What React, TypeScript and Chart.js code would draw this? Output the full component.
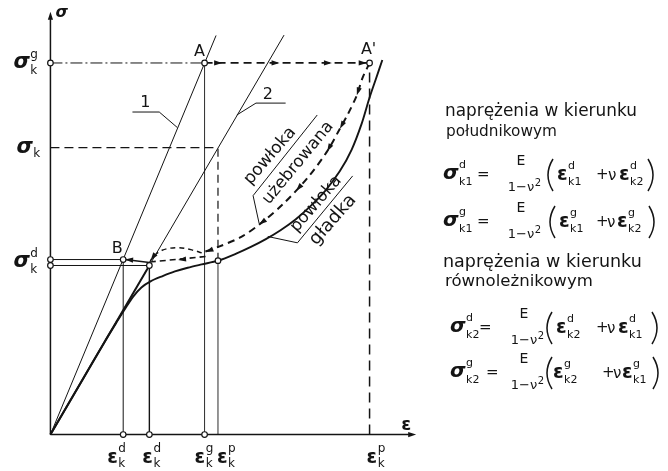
import { useEffect, useRef } from "react";
import { Chart, registerables } from "chart.js";

Chart.register(...registerables);

type P = [number, number];

// Visible window of the ε–σ plane (diagram units)
const X_MIN = -14.55;
const X_MAX = 192.26;
const Y_MIN = -8.73;
const Y_MAX = 115.87;

// Axis lengths
const AXIS_EPS_END = 114.6;
const AXIS_SIG_END = 113.8;

// Characteristic strains
const EPS_KD_B = 22.8; // ε_k^d at point B (line 1)
const EPS_KD_2 = 31.0; // ε_k^d on line 2
const EPS_KG = 48.3; // ε_k^g at point A
const EPS_KP = 52.5; // ε_k^p
const EPS_KP_A = 100; // ε_k^p at point A'

// Characteristic stresses
const SIG_KG = 100; // σ_k^g
const SIG_K = 77.2; // σ_k
const SIG_KD_1 = 47.1; // σ_k^d (upper)
const SIG_KD_2 = 45.5; // σ_k^d (lower)

// Linear-elastic lines 1 and 2
const LINE_1: P[] = [[0, 0], [51.9, 107.4]];
const LINE_2: P[] = [[0, 0], [73.2, 107.5]];

// Smooth shell ("powłoka gładka")
const SMOOTH_SHELL: P[] = [
  [0, 0], [10, 14.7], [17, 25], [21, 30.6], [23.5, 34.0], [26, 37.2], [28.5, 39.6],
  [31.5, 41.3], [35, 42.6], [39, 43.9], [43, 44.9], [47.4, 45.8], [52.5, 46.8],
  [58.2, 48.7], [62.8, 50.5], [67.5, 52.6], [72.1, 55.0], [76.8, 57.9], [81.4, 61.4],
  [86.1, 65.6], [90.7, 70.9], [94.4, 76.7], [97.5, 83.6], [100, 90.7], [101.9, 95.5],
  [104, 100.8],
];

// Ribbed shell ("powłoka użebrowana"), unloading path from A'
const RIBBED_SHELL: P[] = [
  [100, 100], [97.8, 96.0], [96.0, 91.3], [93.2, 86.2], [90.7, 82.3], [86.7, 76.2],
  [80.5, 69.0], [73.1, 62.2], [66.0, 56.9], [59.8, 53.2], [52.6, 50.5], [47.4, 48.9],
];
const RIBBED_LOOP: P[] = [
  [47.4, 48.9], [44.3, 49.7], [39.6, 50.3], [35.0, 49.6], [32.2, 47.8], [31.0, 46.2],
];
const RIBBED_RETURN: P[] = [[48.6, 47.9], [31.8, 46.5]];
const RETURN_TO_B: P[] = [[31.0, 46.3], [EPS_KD_B + 0.6, SIG_KD_1]];

// Leader lines of the curve labels
const LEADER_1: P[] = [[25.7, 86.8], [34.1, 86.8], [39.8, 82.6]];
const LEADER_2: P[] = [[73.7, 89.2], [64.4, 89.2], [58.4, 86.0]];
const LEADER_RIBBED: P[] = [[83.6, 86.0], [63.5, 64.3], [65.4, 56.8]];
const LEADER_SMOOTH: P[] = [[94.7, 69.6], [77.4, 51.6], [68.1, 53.3]];

// Marked points (open circles)
const MARKERS: P[] = [
  [0, SIG_KG], [EPS_KG, SIG_KG], [EPS_KP_A, SIG_KG],
  [0, SIG_KD_1], [0, SIG_KD_2], [EPS_KD_B, SIG_KD_1], [EPS_KD_2, SIG_KD_2],
  [EPS_KP, 46.8],
  [EPS_KD_B, 0], [EPS_KD_2, 0], [EPS_KG, 0],
];

// Arrow heads: [tip, tail]
const ARROWS: [P, P][] = [
  [[AXIS_EPS_END, 0], [AXIS_EPS_END - 3, 0]],
  [[0, AXIS_SIG_END], [0, AXIS_SIG_END - 3]],
  [[53.8, SIG_KG], [50.8, SIG_KG]],
  [[71.8, SIG_KG], [68.8, SIG_KG]],
  [[88.2, SIG_KG], [85.2, SIG_KG]],
  [[99.1, SIG_KG], [96.1, SIG_KG]],
  [[96.0, 91.3], [97.8, 96.0]],
  [[90.7, 82.3], [93.2, 86.2]],
  [[86.7, 76.2], [88.7, 79.3]],
  [[77.0, 65.6], [80.5, 69.0]],
  [[65.4, 56.5], [68.6, 58.6]],
  [[48.6, 49.1], [52.6, 50.5]],
  [[31.4, 46.9], [32.6, 48.3]],
  [[40.0, 47.0], [43.0, 47.3]],
  [[EPS_KD_B + 0.6, SIG_KD_1], [EPS_KD_B + 3.5, 46.9]],
];

const INK = "#141414";
const SANS = '"DejaVu Sans", sans-serif';

const pts = (d: P[]) => d.map(([x, y]) => ({ x, y }));

function line(d: P[], width: number, dash: number[] = [], tension = 0) {
  return {
    data: pts(d),
    showLine: true,
    borderColor: INK,
    borderWidth: width,
    borderDash: dash,
    pointRadius: 0,
    pointHoverRadius: 0,
    tension,
    fill: false,
  };
}

function script(
  ctx: CanvasRenderingContext2D, x: number, y: number, base: string,
  sup: string, sub: string, baseFont: string, smallFont: string, up: number, down: number,
) {
  ctx.textAlign = "left";
  ctx.textBaseline = "middle";
  ctx.font = baseFont;
  ctx.fillText(base, x, y);
  const w = ctx.measureText(base).width;
  ctx.font = smallFont;
  if (sup) ctx.fillText(sup, x + w + 0.5, y - up);
  if (sub) ctx.fillText(sub, x + w + 0.5, y + down);
}

function fitted(ctx: CanvasRenderingContext2D, text: string, width: number, size: number, style = "") {
  ctx.font = `${style}${size}px ${SANS}`;
  const m = ctx.measureText(text).width;
  ctx.font = `${style}${(size * width) / m}px ${SANS}`;
}

function rowText(ctx: CanvasRenderingContext2D, text: string, x: number, y: number, width: number) {
  fitted(ctx, text, width, 15);
  ctx.textAlign = "left";
  ctx.textBaseline = "middle";
  ctx.fillText(text, x, y);
}

function rotText(ctx: CanvasRenderingContext2D, text: string, cx: number, cy: number, deg: number, len: number) {
  ctx.save();
  ctx.translate(cx, cy);
  ctx.rotate((deg * Math.PI) / 180);
  fitted(ctx, text, len, 15);
  ctx.textAlign = "center";
  ctx.textBaseline = "middle";
  ctx.fillText(text, 0, 0);
  ctx.restore();
}

function paren(ctx: CanvasRenderingContext2D, x: number, y: number, left: boolean) {
  const s = left ? 1 : -1;
  ctx.beginPath();
  ctx.moveTo(x + 5 * s, y - 16);
  ctx.quadraticCurveTo(x - 5 * s, y, x + 5 * s, y + 16);
  ctx.lineWidth = 1.5;
  ctx.strokeStyle = INK;
  ctx.stroke();
}

type Row = {
  y: number; sig: number; eq: number; frac: number; lp: number; e1: number;
  plus: number; nu: number; e2: number; rp: number;
  s0: string; b0: string; s1: string; b1: string; s2: string; b2: string;
};

const SIG_FONT = `italic bold 20px ${SANS}`;
const EPS_FONT = `bold 19px ${SANS}`;
const SMALL = `11px ${SANS}`;

function formula(ctx: CanvasRenderingContext2D, r: Row) {
  ctx.fillStyle = INK;
  script(ctx, r.sig, r.y - 1, "σ", r.s0, r.b0, SIG_FONT, SMALL, 9, 8);
  ctx.font = `15px ${SANS}`;
  ctx.textAlign = "left";
  ctx.fillText("=", r.eq, r.y);
  ctx.textAlign = "center";
  ctx.font = `14px ${SANS}`;
  ctx.fillText("E", r.frac - 3, r.y - 14);
  ctx.font = `13px ${SANS}`;
  const den = "1−ν";
  const dw = ctx.measureText(den).width;
  ctx.textAlign = "left";
  ctx.fillText(den, r.frac - (dw + 6) / 2, r.y + 13);
  ctx.font = `10px ${SANS}`;
  ctx.fillText("2", r.frac - (dw + 6) / 2 + dw + 0.5, r.y + 8);
  paren(ctx, r.lp, r.y, true);
  paren(ctx, r.rp, r.y, false);
  script(ctx, r.e1, r.y, "ε", r.s1, r.b1, EPS_FONT, SMALL, 9, 7);
  ctx.font = `15px ${SANS}`;
  ctx.textAlign = "left";
  ctx.fillText("+", r.plus, r.y);
  ctx.font = `15px ${SANS}`;
  ctx.fillText("ν", r.nu, r.y + 1);
  script(ctx, r.e2, r.y, "ε", r.s2, r.b2, EPS_FONT, SMALL, 9, 7);
}

const ROWS: Row[] = [
  { y: 175, sig: 443, eq: 477, frac: 524, lp: 548, e1: 557, plus: 596, nu: 608, e2: 619, rp: 653, s0: "d", b0: "k1", s1: "d", b1: "k1", s2: "d", b2: "k2" },
  { y: 222, sig: 443, eq: 477, frac: 524, lp: 550, e1: 559, plus: 596, nu: 607, e2: 617, rp: 654, s0: "g", b0: "k1", s1: "g", b1: "k1", s2: "g", b2: "k2" },
  { y: 328, sig: 450, eq: 479, frac: 527, lp: 547, e1: 556, plus: 596, nu: 607, e2: 618, rp: 657, s0: "d", b0: "k2", s1: "d", b1: "k2", s2: "d", b2: "k1" },
  { y: 373, sig: 450, eq: 486, frac: 527, lp: 547, e1: 553, plus: 602, nu: 613, e2: 622, rp: 658, s0: "g", b0: "k2", s1: "g", b1: "k2", s2: "g", b2: "k1" },
];

const backgroundPlugin = {
  id: "paper",
  beforeDraw(chart: Chart) {
    const { ctx, width, height } = chart;
    ctx.save();
    ctx.fillStyle = "#ffffff";
    ctx.fillRect(0, 0, width, height);
    ctx.restore();
  },
};

const arrowPlugin = {
  id: "arrowHeads",
  afterDatasetsDraw(chart: Chart) {
    const { ctx } = chart;
    const xs = chart.scales.x;
    const ys = chart.scales.y;
    ctx.save();
    ctx.fillStyle = INK;
    for (const [tip, tail] of ARROWS) {
      const tx = xs.getPixelForValue(tip[0]);
      const ty = ys.getPixelForValue(tip[1]);
      const fx = xs.getPixelForValue(tail[0]);
      const fy = ys.getPixelForValue(tail[1]);
      const a = Math.atan2(ty - fy, tx - fx);
      const len = 8;
      const half = 2.6;
      ctx.beginPath();
      ctx.moveTo(tx, ty);
      ctx.lineTo(tx - len * Math.cos(a) + half * Math.sin(a), ty - len * Math.sin(a) - half * Math.cos(a));
      ctx.lineTo(tx - len * Math.cos(a) - half * Math.sin(a), ty - len * Math.sin(a) + half * Math.cos(a));
      ctx.closePath();
      ctx.fill();
    }
    ctx.restore();
  },
};

const textPlugin = {
  id: "labels",
  afterDraw(chart: Chart) {
    const { ctx } = chart;
    const xs = chart.scales.x;
    const ys = chart.scales.y;
    const X = (v: number) => xs.getPixelForValue(v);
    const Y = (v: number) => ys.getPixelForValue(v);
    ctx.save();
    ctx.fillStyle = INK;

    // axis names
    ctx.textBaseline = "middle";
    ctx.textAlign = "left";
    ctx.font = `italic bold 16px ${SANS}`;
    ctx.fillText("σ", X(0) + 5, 13);
    ctx.font = `bold 18px ${SANS}`;
    ctx.fillText("ε", X(AXIS_EPS_END) - 15, Y(0) - 9);

    // stress levels on the σ axis
    const BIG_SIG = `italic bold 21px ${SANS}`;
    const SUP = `12px ${SANS}`;
    script(ctx, X(0) - 37, Y(SIG_KG), "σ", "g", "k", BIG_SIG, SUP, 8, 8);
    script(ctx, X(0) - 34, Y(SIG_K), "σ", "", "k", BIG_SIG, SUP, 8, 6);
    script(ctx, X(0) - 37, Y(SIG_KD_1) + 2, "σ", "d", "k", BIG_SIG, SUP, 8, 8);

    // strain levels on the ε axis
    const BIG_EPS = `bold 19px ${SANS}`;
    const by = Y(0) + 24;
    script(ctx, X(EPS_KD_B) - 16, by, "ε", "d", "k", BIG_EPS, SUP, 10, 5);
    script(ctx, X(EPS_KD_2) - 7, by, "ε", "d", "k", BIG_EPS, SUP, 10, 5);
    script(ctx, X(EPS_KG) - 10, by, "ε", "g", "k", BIG_EPS, SUP, 10, 5);
    script(ctx, X(EPS_KP) - 1, by, "ε", "p", "k", BIG_EPS, SUP, 10, 5);
    script(ctx, X(EPS_KP_A) - 3, by, "ε", "p", "k", BIG_EPS, SUP, 10, 5);

    // point names
    ctx.font = `16px ${SANS}`;
    ctx.textAlign = "center";
    ctx.fillText("A", X(EPS_KG) - 5, Y(SIG_KG) - 11);
    ctx.fillText("A'", X(EPS_KP_A) - 1, Y(SIG_KG) - 13);
    ctx.fillText("B", X(EPS_KD_B) - 6, Y(SIG_KD_1) - 11);
    ctx.fillText("1", X(LEADER_1[0][0]) + 13, Y(LEADER_1[0][1]) - 9);
    ctx.fillText("2", X(LEADER_2[1][0]) + 12, Y(LEADER_2[0][1]) - 8);

    // curve labels
    rotText(ctx, "powłoka", 270, 156, -49, 70);
    rotText(ctx, "użebrowana", 298, 163, -50.5, 102);
    rotText(ctx, "powłoka", 316, 204, -49, 69);
    rotText(ctx, "gładka", 333, 220, -48.5, 61);

    // stress formulas
    rowText(ctx, "naprężenia w kierunku", 445, 112, 192);
    rowText(ctx, "południkowym", 446, 132, 111);
    rowText(ctx, "naprężenia w kierunku", 443, 262, 199);
    rowText(ctx, "równoleżnikowym", 445, 282, 148);
    for (const r of ROWS) formula(ctx, r);

    ctx.restore();
  },
};

export default function App() {
  const ref = useRef<HTMLCanvasElement>(null);

  useEffect(() => {
    const canvas = ref.current;
    if (!canvas) return;

    const datasets: any[] = [
      {
        data: pts(MARKERS),
        showLine: false,
        pointRadius: 2.8,
        pointHoverRadius: 2.8,
        pointBackgroundColor: "#ffffff",
        pointBorderColor: INK,
        pointBorderWidth: 1.2,
      },
      // axes
      line([[0, 0], [AXIS_EPS_END - 2, 0]], 1.5),
      line([[0, 0], [0, AXIS_SIG_END - 2]], 1.5),
      // lines 1 and 2
      line(LINE_1, 1),
      line(LINE_2, 1),
      line([[0, 0], [EPS_KD_2, SIG_KD_2]], 2),
      // load paths
      line(SMOOTH_SHELL, 1.9, [], 0.3),
      line(RIBBED_SHELL, 2, [7, 5], 0.3),
      line(RIBBED_LOOP, 1.5, [5, 4], 0.35),
      line(RIBBED_RETURN, 1.6, [6, 4]),
      line(RETURN_TO_B, 1.6),
      // levels
      line([[0, SIG_KG], [EPS_KG, SIG_KG]], 1, [12, 3, 2, 3]),
      line([[EPS_KG, SIG_KG], [EPS_KP_A, SIG_KG]], 1.8, [8, 5]),
      line([[0, SIG_K], [EPS_KP, SIG_K]], 1.2, [9, 5]),
      line([[0, SIG_KD_1], [EPS_KD_B, SIG_KD_1]], 1),
      line([[0, SIG_KD_2], [EPS_KD_2, SIG_KD_2]], 1),
      // strain verticals
      line([[EPS_KD_B, 0], [EPS_KD_B, SIG_KD_1]], 1),
      line([[EPS_KD_2, 0], [EPS_KD_2, SIG_KD_2]], 1.4),
      line([[EPS_KG, 0], [EPS_KG, SIG_KG]], 0.9),
      line([[EPS_KP, 0], [EPS_KP, 46.8]], 0.9),
      line([[EPS_KP, 46.8], [EPS_KP, SIG_K]], 1.2, [8, 5]),
      line([[EPS_KP_A, 0], [EPS_KP_A, SIG_KG]], 1.5, [10, 6]),
      // leaders
      line(LEADER_1, 1),
      line(LEADER_2, 1),
      line(LEADER_RIBBED, 1),
      line(LEADER_SMOOTH, 1),
    ];

    const chart = new Chart(canvas, {
      type: "scatter",
      data: { datasets },
      options: {
        responsive: false,
        animation: false,
        devicePixelRatio: 1,
        events: [],
        layout: { padding: 0 },
        scales: {
          x: { type: "linear", min: X_MIN, max: X_MAX, display: false },
          y: { type: "linear", min: Y_MIN, max: Y_MAX, display: false },
        },
        plugins: {
          legend: { display: false },
          tooltip: { enabled: false },
        },
      },
      plugins: [backgroundPlugin, arrowPlugin, textPlugin],
    });

    return () => chart.destroy();
  }, []);

  return (
    <div style={{ position: "absolute", left: 0, top: 0, width: 668, height: 471, background: "#fff" }}>
      <canvas ref={ref} width={668} height={471} style={{ display: "block" }} />
    </div>
  );
}
